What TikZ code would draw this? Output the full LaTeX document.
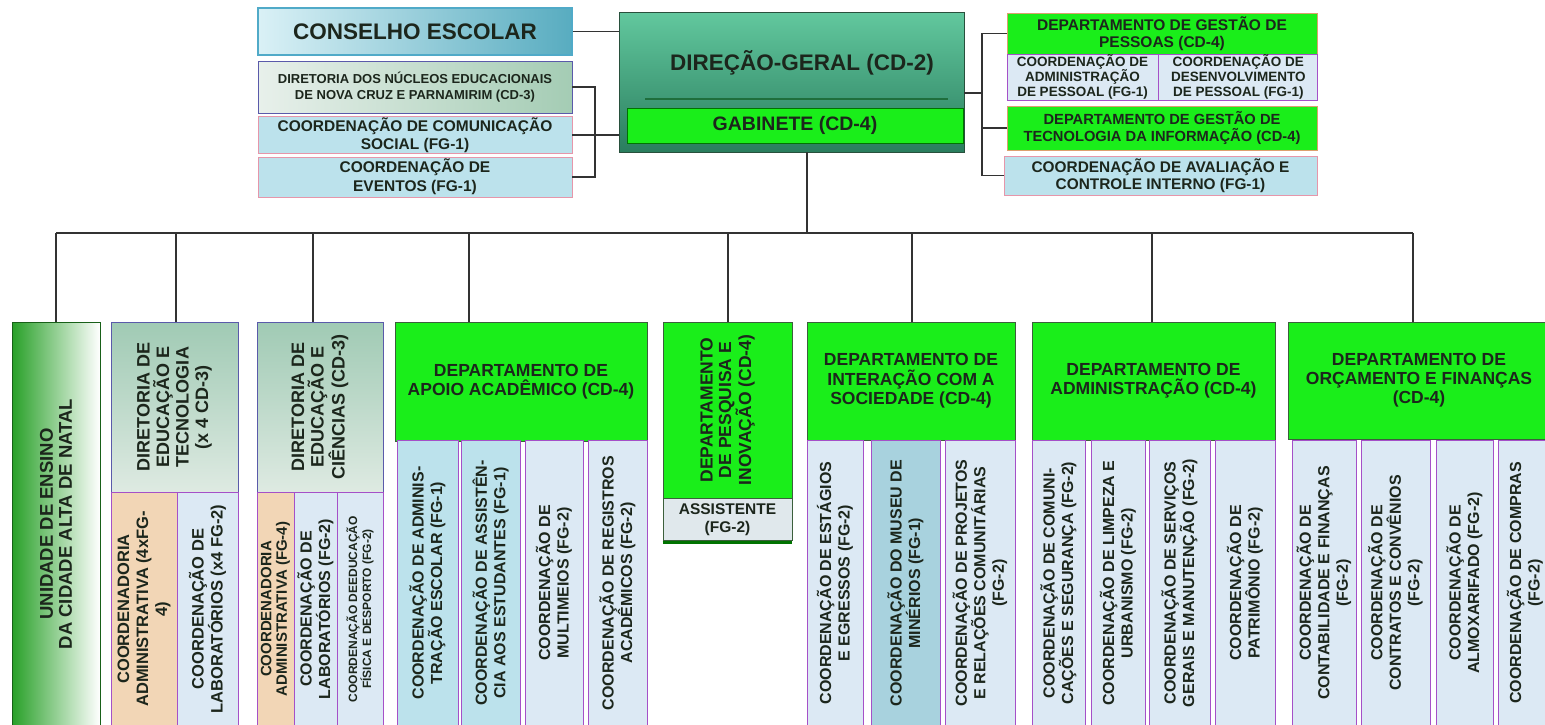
\documentclass[tikz,border=0pt]{standalone}
\usepackage{fontspec}
\setmainfont{Liberation Sans}
\usetikzlibrary{positioning}

\definecolor{ink}{RGB}{28,38,28}
\definecolor{deptgreen}{RGB}{26,238,26}
\definecolor{deptedge}{RGB}{60,95,60}
\definecolor{dgtop}{RGB}{98,200,158}
\definecolor{dgbot}{RGB}{42,125,94}
\definecolor{dgedge}{RGB}{40,80,60}
\definecolor{dgline}{RGB}{30,110,60}
\definecolor{conleft}{RGB}{218,241,246}
\definecolor{conright}{RGB}{88,172,192}
\definecolor{conedge}{RGB}{80,170,200}
\definecolor{nucleft}{RGB}{232,240,235}
\definecolor{nucright}{RGB}{164,204,180}
\definecolor{dirtop}{RGB}{160,202,180}
\definecolor{dirbot}{RGB}{222,234,226}
\definecolor{diredge}{RGB}{90,90,170}
\definecolor{coordfill}{RGB}{220,233,244}
\definecolor{coorddark}{RGB}{188,226,236}
\definecolor{coorddeep}{RGB}{168,210,222}
\definecolor{purpedge}{RGB}{165,80,200}
\definecolor{pinkedge}{RGB}{230,150,170}
\definecolor{peach}{RGB}{220,160,110}
\definecolor{tanfill}{RGB}{242,214,182}
\definecolor{asstfill}{RGB}{224,232,236}
\definecolor{unigreen}{RGB}{40,160,40}

\begin{document}
\begin{tikzpicture}[x=1pt, y=-1pt,
    fs/.style 2 args={font=\fontsize{#1}{#2}\selectfont\bfseries},
    box/.style={rectangle, draw, align=center, inner sep=1pt, text=ink, line width=0.8pt},
    dept/.style={box, fill=deptgreen, draw=deptedge},
    coordbox/.style={box, fill=coorddark, draw=pinkedge},
    subcol/.style={box, fill=coordfill, draw=purpedge, rotate=90, minimum width=286, fs={16}{18.5}},
    lbl/.style={align=center, text=ink, inner sep=0pt},
    line/.style={draw=black!80, line width=1.4pt}
  ]
  \useasboundingbox (0,0) rectangle (1545,724);
  \clip (0,0) rectangle (1545,724);

  % direcao e assessorias
  \node[box, draw=dgedge, top color=dgtop, bottom color=dgbot, minimum width=345, minimum height=140] (direcao) at (791.5,82) {};
  \node[lbl, fs={22.5}{24}] (dgtitle) at (802,63) {DIREÇÃO-GERAL (CD-2)};
  \draw[dgline, line width=2.5pt] (645,99) -- (948,99);
  \node[box, fill=deptgreen, draw=green!45!black, minimum width=336, minimum height=35, fs={19.5}{21}] (gabinete) at (795,125.5) {GABINETE (CD-4)};

  \node[box, left color=conleft, right color=conright, draw=conedge, line width=1.2pt, minimum width=314, minimum height=47, fs={22.5}{24}] (conselho) at (415,31.5) {CONSELHO ESCOLAR};
  \node[box, left color=nucleft, right color=nucright, draw=diredge, minimum width=314, minimum height=52, fs={13}{16}] (nucleos) at (415,87) {DIRETORIA DOS NÚCLEOS EDUCACIONAIS\\DE NOVA CRUZ E PARNAMIRIM (CD-3)};
  \node[coordbox, minimum width=314, minimum height=36, fs={15.5}{18}] (comunic) at (415,135) {COORDENAÇÃO DE COMUNICAÇÃO\\SOCIAL (FG-1)};
  \node[coordbox, minimum width=314, minimum height=40, fs={15.5}{19}] (eventos) at (415,177) {COORDENAÇÃO DE\\EVENTOS (FG-1)};

  \node[dept, draw=peach, minimum width=310, minimum height=41, fs={15.5}{16.5}] (pessoas) at (1162,33.5) {DEPARTAMENTO DE GESTÃO DE\\PESSOAS (CD-4)};
  \node[box, fill=coordfill, draw=purpedge, inner sep=0pt, minimum width=151, minimum height=46, fs={13.5}{15}] (padm) at (1082.5,77) {COORDENAÇÃO DE\\ADMINISTRAÇÃO\\DE PESSOAL (FG-1)};
  \node[box, fill=coordfill, draw=purpedge, inner sep=0pt, minimum width=159, minimum height=46, fs={13.5}{15}, right=0pt of padm] (pdes) {COORDENAÇÃO DE\\DESENVOLVIMENTO\\DE PESSOAL (FG-1)};
  \node[dept, draw=peach, minimum width=310, minimum height=44, fs={14.7}{17}] (ti) at (1162,128) {DEPARTAMENTO DE GESTÃO DE\\TECNOLOGIA DA INFORMAÇÃO (CD-4)};
  \node[coordbox, minimum width=313, minimum height=39, fs={15.4}{17}] (avaliacao) at (1160.5,175.5) {COORDENAÇÃO DE AVALIAÇÃO E\\CONTROLE INTERNO (FG-1)};

  % unidades ligadas a direcao
  \node[box, left color=unigreen, right color=white, draw=unigreen!60!black, minimum width=88, minimum height=404] (unidade) at (56,524) {};
  \node[lbl, rotate=90, fs={18.5}{19}] (unitxt) at (unidade.center) {UNIDADE DE ENSINO\\DA CIDADE ALTA DE NATAL};

  \node[box, top color=dirtop, bottom color=dirbot, draw=diredge, minimum width=127, minimum height=170] (dtec) at (174.5,407) {};
  \node[lbl, rotate=90, fs={18}{19.5}] (dtectxt) at (dtec.center) {DIRETORIA DE\\EDUCAÇÃO E\\TECNOLOGIA\\(x 4 CD-3)};
  \node[subcol, fill=tanfill, minimum width=234, minimum height=66, fs={16.5}{19}] (dtecadm) at (144,609) {COORDENADORIA\\ADMINISTRATIVA (4xFG-\\4)};
  \node[subcol, minimum width=234, minimum height=61, fs={16.5}{19}] (dteclab) at (207.5,609) {COORDENAÇÃO DE\\LABORATÓRIOS (x4 FG-2)};

  \node[box, top color=dirtop, bottom color=dirbot, draw=diredge, minimum width=126, minimum height=170] (dcie) at (320,407) {};
  \node[lbl, rotate=90, fs={18}{19.5}] (dcietxt) at (dcie.center) {DIRETORIA DE\\EDUCAÇÃO E\\CIÊNCIAS (CD-3)};
  \node[subcol, fill=tanfill, minimum width=234, minimum height=37, fs={15}{15.5}] (dcieadm) at (275.5,609) {COORDENADORIA\\ADMINISTRATIVA (FG-4)};
  \node[subcol, minimum width=234, minimum height=43, fs={16}{17}] (dcielab) at (315.5,609) {COORDENAÇÃO DE\\LABORATÓRIOS (FG-2)};
  \node[subcol, minimum width=234, minimum height=46, fs={12}{13}] (dcieedf) at (360,609) {COORDENAÇÃO DEEDUCAÇÃO\\FÍSICA E DESPORTO (FG-2)};

  \node[dept, minimum width=252, minimum height=119, fs={17.5}{19}] (apoio) at (521,381.5) {DEPARTAMENTO DE\\APOIO ACADÊMICO (CD-4)};
  \node[subcol, fill=coorddark, minimum height=61] (apoio1) at (427.5,583) {COORDENAÇÃO DE ADMINIS-\\TRAÇÃO ESCOLAR (FG-1)};
  \node[subcol, fill=coorddark, minimum height=59] (apoio2) at (490.5,583) {COORDENAÇÃO DE ASSISTÊN-\\CIA AOS ESTUDANTES (FG-1)};
  \node[subcol, minimum height=58] (apoio3) at (554,583) {COORDENAÇÃO DE\\MULTIMEIOS (FG-2)};
  \node[subcol, minimum height=59] (apoio4) at (617.5,583) {COORDENAÇÃO DE REGISTROS\\ACADÊMICOS (FG-2)};

  \node[dept, minimum width=129, minimum height=176] (pesq) at (727.5,410) {};
  \node[lbl, rotate=90, fs={17.5}{18.5}] (pesqtxt) at (pesq.center) {DEPARTAMENTO\\DE PESQUISA E\\INOVAÇÃO (CD-4)};
  \node[box, fill=asstfill, draw=deptedge, minimum width=129, minimum height=42, fs={15.5}{18}, below=0pt of pesq] (asst) {ASSISTENTE\\(FG-2)};
  \draw[green!45!black, line width=3pt] ([yshift=-1.5pt]asst.south west) -- ([yshift=-1.5pt]asst.south east);

  \node[dept, minimum width=208, minimum height=118, fs={17.5}{19.5}] (inter) at (911,381) {DEPARTAMENTO DE\\INTERAÇÃO COM A\\SOCIEDADE (CD-4)};
  \node[subcol, minimum height=56] (inter1) at (835,583) {COORDENAÇÃO DE ESTÁGIOS\\E EGRESSOS (FG-2)};
  \node[subcol, fill=coorddeep, minimum height=69] (inter2) at (905.5,583) {COORDENAÇÃO DO MUSEU DE\\MINÉRIOS (FG-1)};
  \node[subcol, minimum height=70] (inter3) at (980,583) {COORDENAÇÃO DE PROJETOS\\E RELAÇÕES COMUNITÁRIAS\\(FG-2)};

  \node[dept, minimum width=243, minimum height=118, fs={17.5}{19}] (adm) at (1153.5,381) {DEPARTAMENTO DE\\ADMINISTRAÇÃO (CD-4)};
  \node[subcol, minimum height=53] (adm1) at (1058.5,583) {COORDENAÇÃO DE COMUNI-\\CAÇÕES E SEGURANÇA (FG-2)};
  \node[subcol, minimum height=54] (adm2) at (1118,583) {COORDENAÇÃO DE LIMPEZA E\\URBANISMO (FG-2)};
  \node[subcol, minimum height=61] (adm3) at (1179.5,583) {COORDENAÇÃO DE SERVIÇOS\\GERAIS E MANUTENÇÃO (FG-2)};
  \node[subcol, minimum height=60] (adm4) at (1245,583) {COORDENAÇÃO DE\\PATRIMÔNIO (FG-2)};

  \node[dept, minimum width=262, minimum height=117, fs={17.5}{19}] (orc) at (1419,380.5) {DEPARTAMENTO DE\\ORÇAMENTO E FINANÇAS\\(CD-4)};
  \node[subcol, minimum height=64] (orc1) at (1324,583) {COORDENAÇÃO DE\\CONTABILIDADE E FINANÇAS\\(FG-2)};
  \node[subcol, minimum height=69] (orc2) at (1395.5,583) {COORDENAÇÃO DE\\CONTRATOS E CONVÊNIOS\\(FG-2)};
  \node[subcol, minimum height=57] (orc3) at (1464.5,583) {COORDENAÇÃO DE\\ALMOXARIFADO (FG-2)};
  \node[subcol, minimum height=54] (orc4) at (1525,583) {COORDENAÇÃO DE COMPRAS\\(FG-2)};

  % ligacoes
  \coordinate (brL) at (595,87);
  \coordinate (brR) at (982,93);
  \coordinate (hub) at (807,233);
  \coordinate (busL) at (56,233);
  \coordinate (busR) at (1413,233);

  \path[line] (conselho.east) -- (conselho.east -| direcao.west);
  \path[line] (nucleos.east) -| (brL |- eventos.east) -- (eventos.east);
  \path[line] (comunic.east) -- (comunic.east -| direcao.west);
  \path[line] (brR -| direcao.east) -- (brR);
  \path[line] (pessoas.west) -| (brR |- avaliacao.west) -- (avaliacao.west);
  \path[line] (ti.west) -- (ti.west -| brR);
  \path[line] (direcao.south -| hub) -- (hub);
  \path[line] (busL) -- (busR);
  \foreach \n/\x in {unidade/56, dtec/176, dcie/313, apoio/469, pesq/728, inter/912, adm/1152, orc/1413} {
    \coordinate (drop) at (\x,233);
    \path[line] (drop) -- (drop |- \n.north);
  }
\end{tikzpicture}
\end{document}
